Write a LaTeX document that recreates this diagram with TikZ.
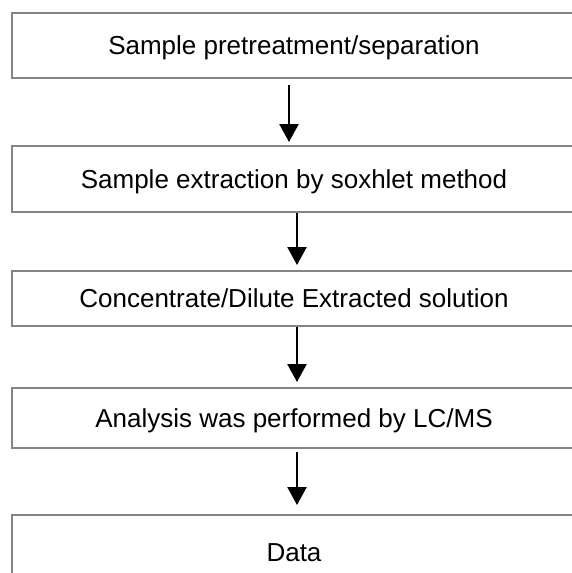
\documentclass[tikz,border=0pt]{standalone}
\usepackage{fontspec}
\setmainfont{Liberation Sans}
\usetikzlibrary{arrows.meta}
\definecolor{boxgray}{gray}{0.52}
\tikzset{
  stage/.style={draw=boxgray, line width=2pt, minimum width=564pt, inner sep=0pt,
    font=\fontsize{26}{31}\selectfont, text height=18.6pt, text depth=0pt},
  flow/.style={line width=2.5pt, -{Triangle[width=19pt,length=18pt]}}
}
\begin{document}
\begin{tikzpicture}[x=1pt,y=-1pt]
\clip (0,0) rectangle (572,573);
\node[stage, minimum height=65pt] (pre) at (294,45.5) {Sample pretreatment/separation};
\node[stage, minimum height=66pt] (sox) at (294,179) {Sample extraction by soxhlet method};
\node[stage, minimum height=55pt] (conc) at (294,298.5) {Concentrate/Dilute Extracted solution};
\node[stage, minimum height=60pt] (lcms) at (294,418) {Analysis was performed by LC/MS};
\node[stage, minimum height=74pt] (data) at (294,552) {Data};

\draw[flow, shorten <=6pt, shorten >=3pt] ([xshift=-5pt]pre.south) -- ([xshift=-5pt]sox.north);
\draw[flow, shorten >=5pt] ([xshift=3pt]sox.south) -- ([xshift=3pt]conc.north);
\draw[flow, shorten >=5pt] ([xshift=3pt]conc.south) -- ([xshift=3pt]lcms.north);
\draw[flow, shorten <=3pt, shorten >=9pt] ([xshift=3pt]lcms.south) -- ([xshift=3pt]data.north);
\end{tikzpicture}
\end{document}
